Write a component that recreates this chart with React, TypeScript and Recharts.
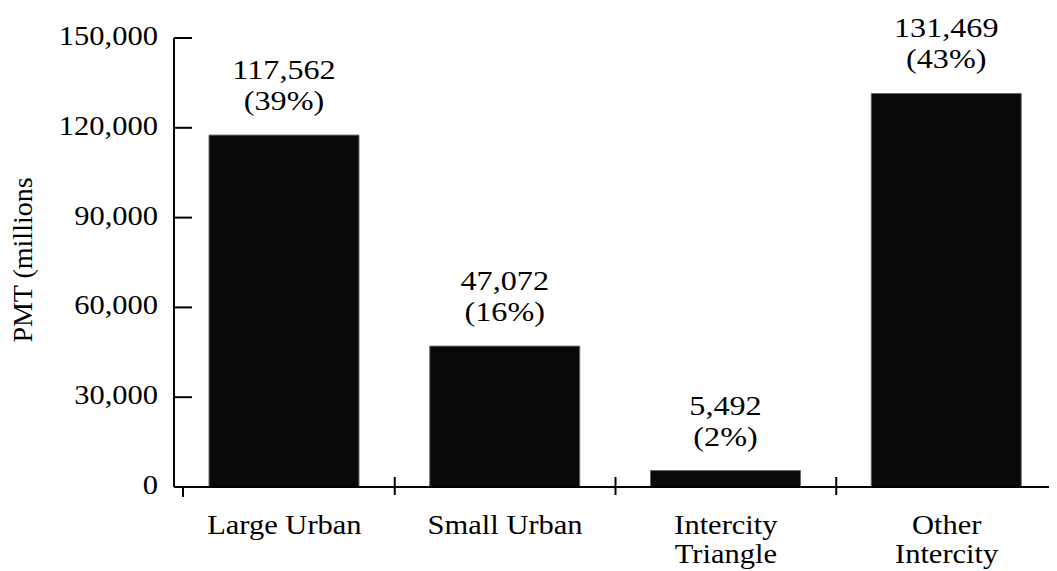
import React from 'react';
import { BarChart, Bar, XAxis, YAxis, LabelList, ReferenceLine } from 'recharts';

const categories = ['Large Urban', 'Small Urban', 'Intercity Triangle', 'Other Intercity'];
const categoryLines: Record<string, string[]> = {
  'Large Urban': ['Large Urban'],
  'Small Urban': ['Small Urban'],
  'Intercity Triangle': ['Intercity', 'Triangle'],
  'Other Intercity': ['Other', 'Intercity'],
};
const pmtValues = [117562, 47072, 5492, 131469];
const shareLabels = ['(39%)', '(16%)', '(2%)', '(43%)'];
const yTicks = [0, 30000, 60000, 90000, 120000, 150000];
const boundaryCategories = ['Small Urban', 'Intercity Triangle', 'Other Intercity'];

const data = categories.map((name, i) => ({ name, pmt: pmtValues[i], share: shareLabels[i] }));

const FONT = '"Liberation Serif", "Times New Roman", Times, serif';

const fmt = (v: number) => v.toLocaleString('en-US');

const SText = ({ x, y, sx, size, anchor, children }: any) => (
  <text
    transform={`translate(${x},${y}) scale(${sx},1)`}
    x={0}
    y={0}
    textAnchor={anchor}
    fontFamily={FONT}
    fontSize={size}
    fill="#000"
  >
    {children}
  </text>
);

const YTick = (p: any) => {
  const { x, y, payload } = p;
  return (
    <g>
      <line x1={x + 16} x2={x + 34} y1={y} y2={y} stroke="#000" strokeWidth={2} />
      {payload.value === 0 && <line x1={x + 25} x2={x + 25} y1={y} y2={y + 10} stroke="#000" strokeWidth={2} />}
      <SText x={x} y={y + 7} sx={1.09} size={28} anchor="end">
        {fmt(payload.value)}
      </SText>
    </g>
  );
};

const XTick = (p: any) => {
  const { x, y, payload } = p;
  const lines = categoryLines[payload.value] || [payload.value];
  return (
    <g>
      {lines.map((l, i) => (
        <SText key={i} x={x} y={y + 47 + i * 29} sx={1.09} size={28} anchor="middle">
          {l}
        </SText>
      ))}
    </g>
  );
};

const BarLabel = (p: any) => {
  const { x, y, width, index } = p;
  const cx = x + width / 2;
  return (
    <g>
      <SText x={cx} y={y - 56} sx={1.15} size={28} anchor="middle">
        {fmt(pmtValues[index])}
      </SText>
      <SText x={cx} y={y - 25} sx={1.15} size={28} anchor="middle">
        {shareLabels[index]}
      </SText>
    </g>
  );
};

const BoundaryTick = (p: any) => {
  const yb = Math.max(p.y1, p.y2);
  return <line x1={p.x1} x2={p.x1} y1={yb - 10} y2={yb + 8} stroke="#000" strokeWidth={2} />;
};

const YLabel = () => (
  <text
    x={24}
    y={252}
    transform="rotate(-90, 24, 252)"
    textAnchor="middle"
    fontFamily={FONT}
    fontSize={28}
    fill="#000"
  >
    PMT (millions
  </text>
);

export default function App() {
  return (
    <BarChart
      width={1049}
      height={563}
      data={data}
      margin={{ top: 30, right: 0, bottom: 0, left: 0 }}
      barSize={150}
    >
      <YAxis
        width={166}
        domain={[0, 150000]}
        ticks={yTicks}
        interval={0}
        tickLine={false}
        tickSize={0}
        tickMargin={16}
        axisLine={{ stroke: '#000', strokeWidth: 2 }}
        tick={<YTick />}
        label={<YLabel />}
      />
      <XAxis
        dataKey="name"
        height={84}
        interval={0}
        tickLine={false}
        tickSize={0}
        tickMargin={0}
        axisLine={{ stroke: '#000', strokeWidth: 2 }}
        tick={<XTick />}
      />
      <Bar dataKey="pmt" fill="#080808" stroke="#6a6a6a" strokeWidth={1} isAnimationActive={false}>
        <LabelList dataKey="pmt" content={<BarLabel />} />
      </Bar>
      {boundaryCategories.map((c) => (
        <ReferenceLine key={c} x={c} position="start" ifOverflow="visible" shape={<BoundaryTick />} />
      ))}
    </BarChart>
  );
}
